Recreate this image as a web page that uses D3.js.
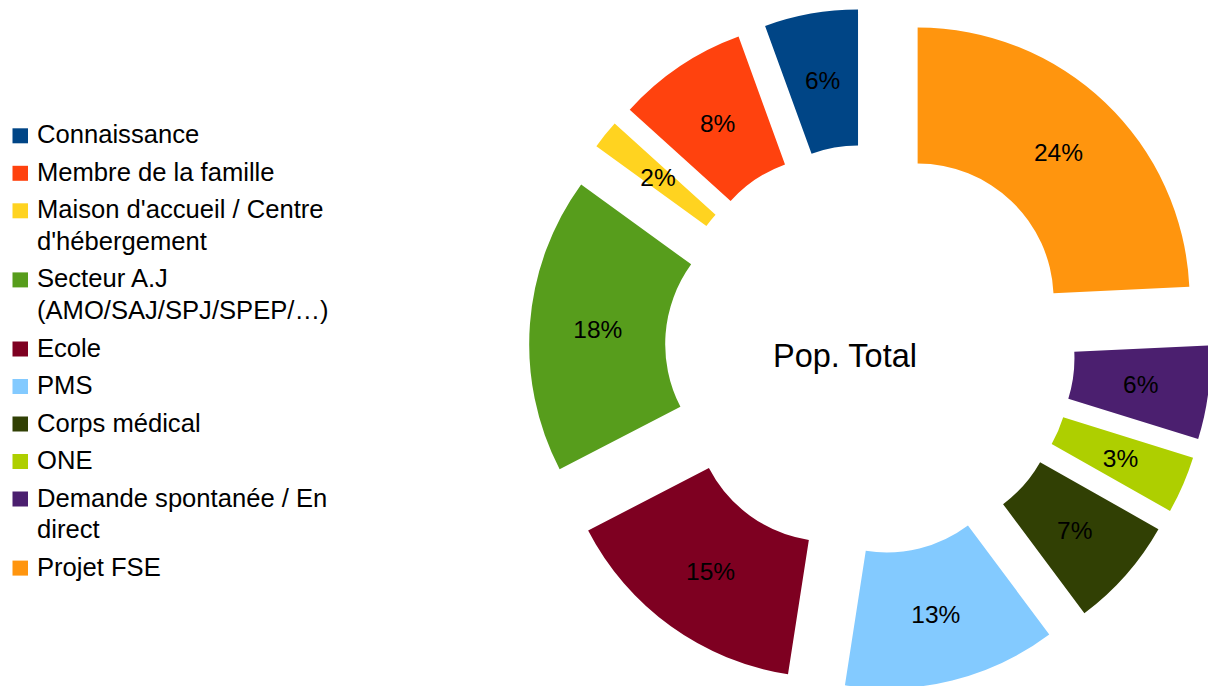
<!DOCTYPE html>
<html>
<head>
<meta charset="utf-8">
<script src="https://cdn.jsdelivr.net/npm/d3@7"></script>
<style>
  html, body { margin: 0; padding: 0; background: #fff; }
  svg { display: block; font-family: "Liberation Sans", Arial, sans-serif; }
</style>
</head>
<body>
<svg id="chart" width="1208" height="686"></svg>
<script>
// ---- data ----
const categories = [
  "Connaissance",
  "Membre de la famille",
  "Maison d'accueil / Centre d'hébergement",
  "Secteur A.J (AMO/SAJ/SPJ/SPEP/…)",
  "Ecole",
  "PMS",
  "Corps médical",
  "ONE",
  "Demande spontanée / En direct",
  "Projet FSE"
];
const values = [5.55, 7.75, 1.7, 17.6, 14.95, 12.65, 6.6, 3.4, 5.55, 24.25];
const colors = ["#004586", "#ff420e", "#ffd320", "#579d1c", "#7e0021",
                "#83caff", "#314004", "#aecf00", "#4b1f6f", "#ff950e"];
const centerTitle = "Pop. Total";

// ---- layout ----
const W = 1208, H = 686;
const cx = 870, cy = 349.5;
const Rout = 272, Rin = 136, explode = 69;

const svg = d3.select("#chart");
const total = d3.sum(values);
const data = categories.map((c, i) => ({ name: c, value: values[i], color: colors[i] }));

const pie = d3.pie().value(d => d.value).sort(null)
  .startAngle(0).endAngle(-2 * Math.PI);
const arcs = pie(data);
const arc = d3.arc().innerRadius(Rin).outerRadius(Rout);

const g = svg.append("g").attr("transform", `translate(${cx},${cy})`);

const slice = g.selectAll("g.slice").data(arcs).enter().append("g")
  .attr("class", "slice")
  .attr("transform", d => {
    const m = (d.startAngle + d.endAngle) / 2;
    return `translate(${explode * Math.sin(m)},${-explode * Math.cos(m)})`;
  });

slice.append("path")
  .attr("d", arc)
  .attr("fill", d => d.data.color);

slice.append("text")
  .attr("transform", d => `translate(${arc.centroid(d)})`)
  .attr("text-anchor", "middle")
  .attr("dy", "0.36em")
  .attr("font-size", 24.5)
  .attr("fill", "#000")
  .text(d => Math.round(d.value / total * 100) + "%");

// center title
svg.append("text")
  .attr("x", 845).attr("y", 367)
  .attr("text-anchor", "middle")
  .attr("font-size", 32.5)
  .attr("fill", "#000")
  .text(centerTitle);

// ---- legend ----
const legend = svg.append("g");
const maxW = 302, fs = 25.6, firstBase = 143.3, itemGap = 37.5, lineGap = 31.6;
let extra = 0;
data.forEach((d, i) => {
  const base = firstBase + itemGap * i + lineGap * extra;
  legend.append("rect")
    .attr("x", 12.5).attr("y", base - 15)
    .attr("width", 15.5).attr("height", 15)
    .attr("fill", d.color);
  const t = legend.append("text")
    .attr("x", 37).attr("y", base)
    .attr("font-size", fs).attr("fill", "#000");
  const words = d.name.split(" ");
  let line = [];
  let ts = t.append("tspan").attr("x", 37).attr("y", base);
  let ln = 0;
  words.forEach(w => {
    line.push(w);
    ts.text(line.join(" "));
    if (ts.node().getComputedTextLength() > maxW && line.length > 1) {
      line.pop();
      ts.text(line.join(" "));
      line = [w];
      ln++;
      ts = t.append("tspan").attr("x", 37).attr("y", base + lineGap * ln).text(w);
    }
  });
  extra += ln;
});
</script>
</body>
</html>
